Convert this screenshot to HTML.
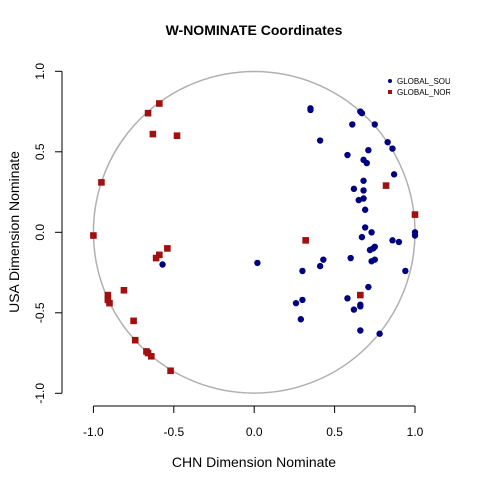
<!DOCTYPE html>
<html><head><meta charset="utf-8"><style>
html,body{margin:0;padding:0;background:#fff}
svg{display:block;font-family:"Liberation Sans",Arial,sans-serif}
</style></head><body>
<svg id="chart" width="480" height="480" viewBox="0 0 480 480">
<defs><clipPath id="plotclip"><rect x="0" y="0" width="450" height="480"/></clipPath></defs>
<text x="254" y="35" text-anchor="middle" font-weight="bold" font-size="14">W-NOMINATE Coordinates</text>
<text x="254" y="467" text-anchor="middle" font-size="14">CHN Dimension Nominate</text>
<text transform="translate(19,232) rotate(-90)" text-anchor="middle" font-size="14">USA Dimension Nominate</text>
<g id="axes"></g>
<circle id="unitcircle" fill="none" stroke="#b0b0b0" stroke-width="1.5"/>
<g id="marks"></g>
<g clip-path="url(#plotclip)">
  <circle cx="390" cy="81" r="2" fill="#000080"/>
  <text x="397" y="84" font-size="8">GLOBAL_SOUTH</text>
  <rect x="388" y="90" width="4" height="4" fill="#a01010"/>
  <text x="397" y="95" font-size="8">GLOBAL_NORTH</text>
</g>
</svg>
<script>
const xTicks = [-1.0, -0.5, 0.0, 0.5, 1.0];
const yTicks = [-1.0, -0.5, 0.0, 0.5, 1.0];
const tickLabels = ["-1.0", "-0.5", "0.0", "0.5", "1.0"];
const northX = [-0.59,-0.66,-0.63,-0.48,-0.95,-1.00,-0.54,-0.59,-0.61,-0.81,-0.91,-0.91,-0.90,-0.75,-0.74,-0.67,-0.66,-0.64,-0.52,0.82,1.00,0.32,0.66];
const northY = [0.80,0.74,0.61,0.60,0.31,-0.02,-0.10,-0.14,-0.16,-0.36,-0.39,-0.42,-0.44,-0.55,-0.67,-0.74,-0.75,-0.77,-0.86,0.29,0.11,-0.05,-0.39];
const southX = [-0.57,0.02,0.35,0.35,0.66,0.67,0.61,0.75,0.41,0.83,0.86,0.71,0.58,0.68,0.70,0.87,0.68,0.62,0.68,0.68,0.65,0.69,0.69,1.00,1.00,0.73,0.67,0.86,0.90,0.75,0.74,0.72,0.43,0.41,0.60,0.75,0.73,0.30,0.94,0.71,0.30,0.26,0.58,0.66,0.66,0.62,0.29,0.66,0.78];
const southY = [-0.20,-0.19,0.77,0.76,0.75,0.74,0.67,0.67,0.57,0.56,0.52,0.51,0.48,0.45,0.43,0.36,0.32,0.27,0.26,0.21,0.20,0.14,0.03,0.00,-0.02,0.00,-0.03,-0.05,-0.06,-0.09,-0.10,-0.11,-0.17,-0.21,-0.16,-0.17,-0.18,-0.24,-0.24,-0.34,-0.42,-0.44,-0.41,-0.45,-0.46,-0.48,-0.54,-0.61,-0.63];

const NS = "http://www.w3.org/2000/svg";
const X0 = 254.2, XS = 160.8, Y0 = 232.3, YS = 161;
function sx(v){ return X0 + v*XS; }
function sy(v){ return Y0 - v*YS; }
function mk(tag, attrs, parent){ const e = document.createElementNS(NS, tag); for (const k in attrs) e.setAttribute(k, attrs[k]); parent.appendChild(e); return e; }

const axes = document.getElementById("axes");
// x axis
let xl = mk("line", {x1: sx(xTicks[0]), x2: sx(xTicks[xTicks.length-1]), y1: 406, y2: 406, stroke: "#000"}, axes);


xTicks.forEach((t, i) => {
  const tk = mk("line", {x1: sx(t), x2: sx(t), y1: 406, y2: 413, stroke: "#000"}, axes);
  
  
  const tl = mk("text", {x: sx(t), y: 436, "text-anchor": "middle", "font-size": "12"}, axes);
  tl.textContent = tickLabels[i];
  
  
});
// y axis
let yl = mk("line", {x1: 62, x2: 62, y1: sy(yTicks[0]), y2: sy(yTicks[yTicks.length-1]), stroke: "#000"}, axes);


yTicks.forEach((t, i) => {
  const tk = mk("line", {x1: 55, x2: 62, y1: sy(t), y2: sy(t), stroke: "#000"}, axes);
  
  
  const tl = mk("text", {transform: "translate(44," + sy(t) + ") rotate(-90)", "text-anchor": "middle", "font-size": "12"}, axes);
  tl.textContent = tickLabels[i];
  
  
});

const c = document.getElementById("unitcircle");
c.setAttribute("cx", sx(0)); c.setAttribute("cy", sy(0)); c.setAttribute("r", XS);

const marks = document.getElementById("marks");
southX.forEach((v, i) => {
  const p = mk("circle", {cx: sx(v), cy: sy(southY[i]), r: 3.2, fill: "#000080"}, marks);
  
  
});
northX.forEach((v, i) => {
  const p = mk("rect", {x: sx(v) - 3.3, y: sy(northY[i]) - 3.3, width: 6.6, height: 6.6, fill: "#a01010"}, marks);
  
  
});
</script>
</body></html>
